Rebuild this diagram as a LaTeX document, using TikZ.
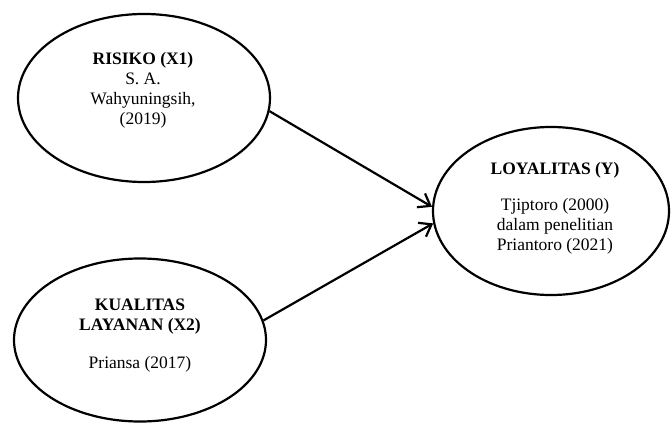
\documentclass[tikz,border=0pt]{standalone}
\usepackage{fontspec}
\setmainfont{Liberation Serif}
\usepackage{tikz}
\usetikzlibrary{shapes.geometric, arrows.meta, positioning}

\begin{document}
\begin{tikzpicture}[x=1pt, y=1pt,
  var/.style={draw=black, line width=2.2pt, ellipse, fill=white},
  txt/.style={align=center, font=\fontsize{17.5}{20}\selectfont},
  arrow/.style={-{Straight Barb[length=11pt, width=16pt]}, line width=2.2pt}
]
  \useasboundingbox (0,0) rectangle (672,-425);
  % variables
  \node[var, minimum width=252, minimum height=168] (risiko) at (144,-98) {};
  \node[var, minimum width=252, minimum height=163] (layanan) at (140,-340) {};
  \node[var, minimum width=236, minimum height=168] (loyal) at (551,-211) {};
  \node[txt] (risiko-txt) at (143,-90) {\textbf{RISIKO (X1)}\\S. A.\\Wahyuningsih,\\(2019)};
  \node[txt] (layanan-txt) at (140,-336) {\textbf{KUALITAS}\\\textbf{LAYANAN (X2)}\\[18pt]Priansa (2017)};
  \node[txt] (loyal-txt) at (555,-208) {\textbf{LOYALITAS (Y)}\\[16pt]Tjiptoro (2000)\\dalam penelitian\\Priantoro (2021)};

  \draw[arrow] (risiko.-6) -- (loyal.178);
  \draw[arrow] (layanan.9) -- (loyal.-174);
\end{tikzpicture}
\end{document}
